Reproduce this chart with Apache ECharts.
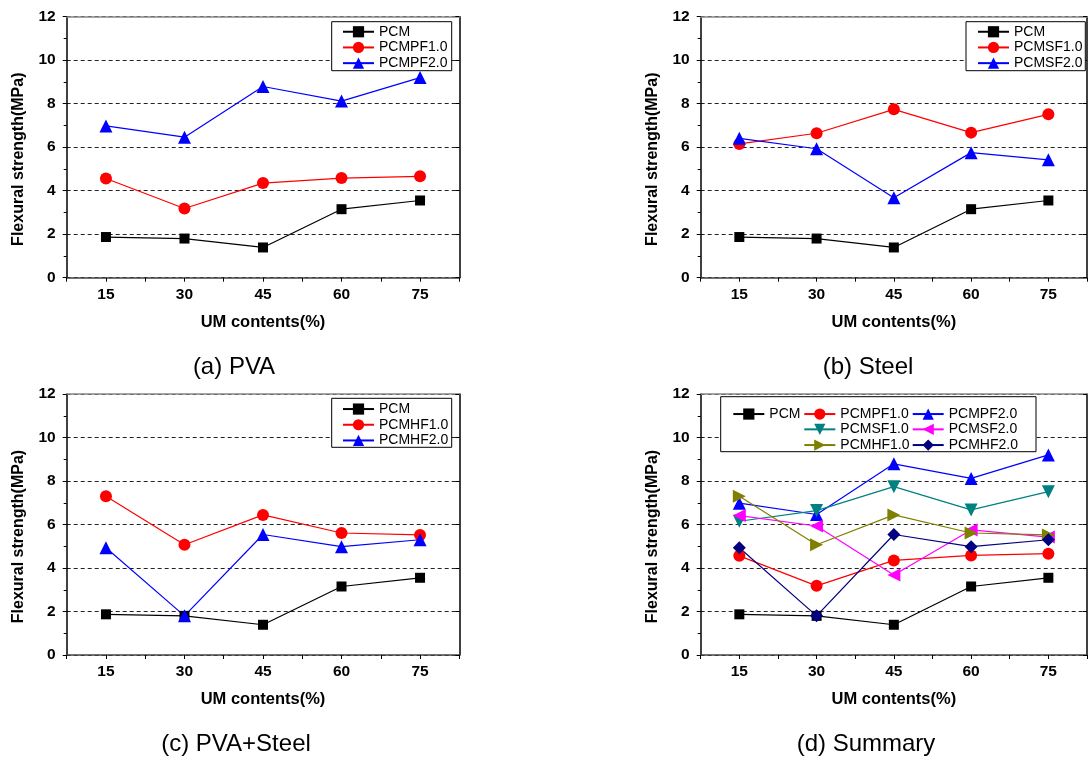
<!DOCTYPE html>
<html><head><meta charset="utf-8">
<script src="https://cdn.jsdelivr.net/npm/echarts@6/dist/echarts.min.js"></script>
<style>html,body{margin:0;padding:0;background:#fff}#c{width:1090px;height:761px}</style>
</head><body><div id="c"></div>
<script>
// ---- data ----
const categories = [15, 30, 45, 60, 75];
const xTickLabels = ['15', '30', '45', '60', '75'];
const PCM     = [1.87, 1.80, 1.39, 3.15, 3.55];
const PCMPF10 = [4.56, 3.18, 4.35, 4.58, 4.66];
const PCMPF20 = [6.98, 6.46, 8.79, 8.12, 9.20];
const PCMSF10 = [6.15, 6.64, 7.74, 6.67, 7.51];
const PCMSF20 = [6.41, 5.93, 3.68, 5.75, 5.42];
const PCMHF10 = [7.30, 5.07, 6.44, 5.61, 5.52];
const PCMHF20 = [4.93, 1.80, 5.54, 4.98, 5.30];
const panelTitles = ['(a) PVA', '(b) Steel', '(c) PVA+Steel', '(d) Summary'];
const xName = 'UM contents(%)';
const yName = 'Flexural strength(MPa)';

const valuesByName = {
  'PCM': PCM, 'PCMPF1.0': PCMPF10, 'PCMPF2.0': PCMPF20,
  'PCMSF1.0': PCMSF10, 'PCMSF2.0': PCMSF20,
  'PCMHF1.0': PCMHF10, 'PCMHF2.0': PCMHF20
};

// ---- styles / layout ----
const FONT = '"Liberation Sans", Arial, Helvetica, sans-serif';
const ST = {
  black:  {color: '#000000', symbol: 'rect',     size: 10, rotate: 0},
  red:    {color: '#ff0000', symbol: 'circle',   size: 12, rotate: 0},
  blue:   {color: '#0000ff', symbol: 'triangle', size: 13, rotate: 0},
  teal:   {color: '#008080', symbol: 'triangle', size: 13, rotate: 180},
  magenta:{color: '#ff00ff', symbol: 'triangle', size: 13, rotate: 90},
  olive:  {color: '#808000', symbol: 'triangle', size: 13, rotate: -90},
  navy:   {color: '#000080', symbol: 'diamond',  size: 13, rotate: 0}
};
const GW = 392.6, GH = 261;
const panels = [
  {left: 66.7, top: 16.7,
   names: ['PCM', 'PCMPF1.0', 'PCMPF2.0'], styles: ['black', 'red', 'blue'],
   legends: [{left: 342, top: 23.9, idx: [0, 1, 2]}],
   box: [331.7, 21.7, 120, 49], title: [234, 367]},
  {left: 700.7, top: 16.7,
   names: ['PCM', 'PCMSF1.0', 'PCMSF2.0'], styles: ['black', 'red', 'blue'],
   legends: [{left: 977, top: 23.9, idx: [0, 1, 2]}],
   box: [966, 21.7, 119.3, 49], title: [868, 367]},
  {left: 66.7, top: 394,
   names: ['PCM', 'PCMHF1.0', 'PCMHF2.0'], styles: ['black', 'red', 'blue'],
   legends: [{left: 342, top: 401.2, idx: [0, 1, 2]}],
   box: [331.7, 398.3, 120, 49], title: [236, 744]},
  {left: 700.7, top: 394,
   names: ['PCM', 'PCMPF1.0', 'PCMPF2.0', 'PCMSF1.0', 'PCMSF2.0', 'PCMHF1.0', 'PCMHF2.0'],
   styles: ['black', 'red', 'blue', 'teal', 'magenta', 'olive', 'navy'],
   legends: [
     {left: 732.3, top: 406.2, idx: [0]},
     {left: 803.3, top: 406.2, idx: [1]},
     {left: 911.7, top: 406.2, idx: [2]},
     {left: 803.3, top: 421.5, idx: [3]},
     {left: 911.7, top: 421.5, idx: [4]},
     {left: 803.3, top: 437.2, idx: [5]},
     {left: 911.7, top: 437.2, idx: [6]}
   ],
   box: [720.7, 396.7, 315.3, 55], title: [866, 744]}
];

const grid = [], xAxis = [], yAxis = [], series = [], legend = [], graphic = [];
const boldText = (size) => ({fontFamily: FONT, fontSize: size, fontWeight: 'bold', color: '#000'});
const uid = (name, i) => name + '|' + i;

panels.forEach((p, i) => {
  grid.push({left: p.left, top: p.top, width: GW, height: GH, containLabel: false});
  xAxis.push({
    gridIndex: i, type: 'value', min: 7.5, max: 82.5, interval: 7.5, position: 'bottom',
    name: xName, nameLocation: 'middle', nameGap: 36, nameTextStyle: boldText(16.5),
    axisLine: {show: true, onZero: false, lineStyle: {color: '#444', width: 1.5}},
    axisTick: {show: true, length: 4, lineStyle: {color: '#000', width: 1}},
    axisLabel: {margin: 9, ...boldText(15.5),
      formatter: v => { const k = categories.indexOf(v); return k >= 0 ? xTickLabels[k] : ''; }},
    splitLine: {show: false}
  });
  xAxis.push({
    gridIndex: i, type: 'value', min: 7.5, max: 82.5, position: 'top',
    axisLine: {show: true, onZero: false, lineStyle: {color: '#888', width: 1.5}},
    axisTick: {show: false}, axisLabel: {show: false}, splitLine: {show: false}
  });
  yAxis.push({
    gridIndex: i, type: 'value', min: 0, max: 12, interval: 2, position: 'left',
    name: yName, nameLocation: 'middle', nameGap: 40,
    nameTextStyle: {...boldText(16), padding: [0, 24, 0, 0]},
    axisLine: {show: true, onZero: false, lineStyle: {color: '#000', width: 1.5}},
    axisTick: {show: true, length: 4, lineStyle: {color: '#000', width: 1}},
    minorTick: {show: true, splitNumber: 2, length: 3, lineStyle: {color: '#000', width: 1}},
    axisLabel: {margin: 11, ...boldText(15.5)},
    splitLine: {show: true, lineStyle: {type: [4, 3], color: '#222', width: 1}}
  });
  yAxis.push({
    gridIndex: i, type: 'value', min: 0, max: 12, interval: 2, position: 'right',
    axisLine: {show: true, onZero: false, lineStyle: {color: '#000', width: 1.5}},
    axisTick: {show: true, inside: true, length: 4, lineStyle: {color: '#000', width: 1}},
    axisLabel: {show: false}, splitLine: {show: false}
  });
  p.names.forEach((name, j) => {
    const s = ST[p.styles[j]];
    series.push({
      type: 'line', name: uid(name, i), xAxisIndex: 2 * i, yAxisIndex: 2 * i,
      data: categories.map((x, k) => [x, valuesByName[name][k]]),
      symbol: s.symbol, symbolSize: s.size, symbolRotate: s.rotate,
      showSymbol: true,
      itemStyle: {color: s.color},
      lineStyle: {color: s.color, width: 1.2},
      emphasis: {disabled: true}, animation: false, z: 3
    });
  });
  graphic.push({
    type: 'rect', z: 10,
    shape: {x: p.box[0], y: p.box[1], width: p.box[2], height: p.box[3]},
    style: {fill: '#fff', stroke: '#000', lineWidth: 1}
  });
  p.legends.forEach(l => {
    legend.push({
      data: l.idx.map(j => uid(p.names[j], i)), orient: 'vertical', left: l.left, top: l.top,
      itemWidth: 31, itemHeight: 14, itemGap: 0, padding: 0,
      selectedMode: false, z: 20,
      formatter: n => n.split('|')[0],
      textStyle: {fontFamily: FONT, fontSize: 14, lineHeight: 15.7, color: '#000'}
    });
  });
  graphic.push({
    type: 'text', z: 10, x: p.title[0], y: p.title[1],
    style: {text: panelTitles[i], fontFamily: FONT, fontSize: 24, fill: '#000',
            align: 'center', verticalAlign: 'middle'}
  });
});

const chart = echarts.init(document.getElementById('c'), null, {renderer: 'canvas'});
chart.setOption({
  backgroundColor: '#fff', animation: false,
  grid, xAxis, yAxis, series, legend, graphic
});
</script></body></html>
